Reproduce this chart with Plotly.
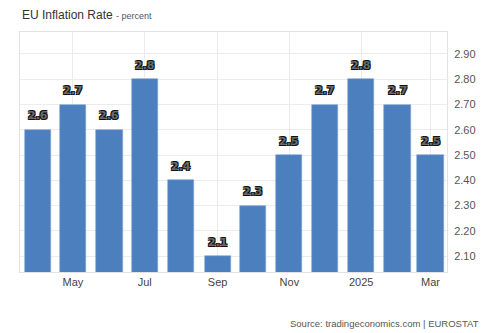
import plotly.graph_objects as go

dates = ["2024-04-01", "2024-05-01", "2024-06-01", "2024-07-01", "2024-08-01", "2024-09-01",
         "2024-10-01", "2024-11-01", "2024-12-01", "2025-01-01", "2025-02-01", "2025-03-01"]
values = [2.6, 2.7, 2.6, 2.8, 2.4, 2.1, 2.3, 2.5, 2.7, 2.8, 2.7, 2.5]
tick_dates = ["2024-05-01", "2024-07-01", "2024-09-01", "2024-11-01", "2025-01-01", "2025-03-01"]
tick_labels = ["May", "Jul", "Sep", "Nov", "2025", "Mar"]
y_ticks = [2.1, 2.2, 2.3, 2.4, 2.5, 2.6, 2.7, 2.8, 2.9]

fig = go.Figure()
fig.add_trace(go.Bar(
    x=dates, y=values,
    width=22.3 * 86400000,
    marker=dict(color="#4c7fbe", line=dict(color="#7fa3d3", width=0.6)),
    hoverinfo="skip",
))

for d, v in zip(dates, values):
    fig.add_annotation(
        x=d, y=v, text=f"{v:.1f}", showarrow=False, yshift=14,
        font=dict(family="Arial Black, DejaVu Sans, sans-serif", size=11, color="#6a6a6a",
                  weight="bold",
                  shadow="1px 1px 0 #111, -1px -1px 0 #111, 1px -1px 0 #111, -1px 1px 0 #111"),
    )

fig.add_annotation(
    xref="paper", yref="paper", x=0, y=1, xanchor="left", yanchor="bottom",
    yshift=8, showarrow=False,
    text="EU Inflation Rate <span style='font-size:9px;color:#555'>- percent</span>",
    font=dict(family="Liberation Sans, Arial, sans-serif", size=12, color="#333"),
)
fig.add_annotation(
    xref="paper", yref="paper", x=1, y=0, xanchor="right", yanchor="top",
    xshift=34, yshift=-44, showarrow=False,
    text="Source: tradingeconomics.com | EUROSTAT",
    font=dict(family="Liberation Sans, Arial, sans-serif", size=9.5, color="#555"),
)

fig.update_layout(
    width=488, height=333,
    margin=dict(l=20, r=36, t=32, b=61),
    paper_bgcolor="white", plot_bgcolor="white",
    showlegend=False,
    bargap=0,
    xaxis=dict(
        type="date",
        range=["2024-03-17", "2025-03-15"],
        tickvals=tick_dates, ticktext=tick_labels,
        showgrid=True, gridcolor="#ececec", gridwidth=1,
        showline=True, linecolor="#e3e3e3", mirror=True,
        ticks="", tickfont=dict(family="Liberation Sans, Arial, sans-serif", size=11, color="#444"),
        fixedrange=True,
    ),
    yaxis=dict(
        side="right",
        range=[2.037, 2.987],
        tickvals=y_ticks, ticktext=[f"{t:.2f}" for t in y_ticks],
        showgrid=True, gridcolor="#ececec", gridwidth=1,
        showline=True, linecolor="#e3e3e3", mirror=True,
        ticks="", ticklabelstandoff=4,
        tickfont=dict(family="Liberation Sans, Arial, sans-serif", size=11, color="#555"),
        zeroline=False, fixedrange=True,
    ),
)

fig.write_html("out.html")
